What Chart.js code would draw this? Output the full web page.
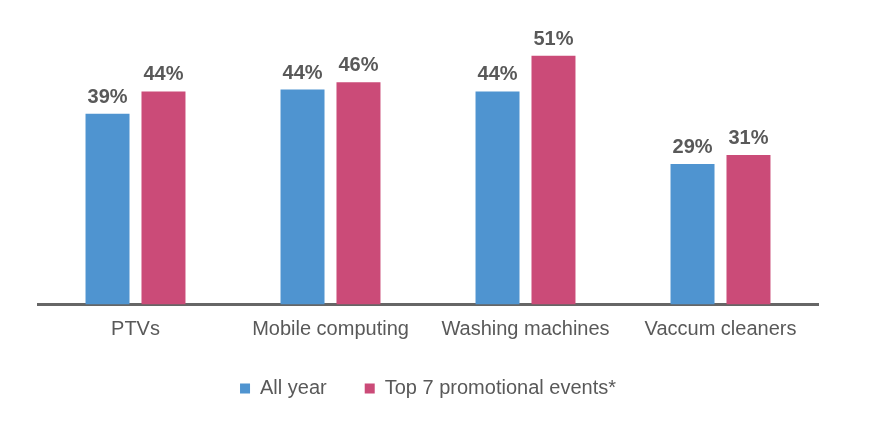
<!DOCTYPE html>
<html>
<head>
<meta charset="utf-8">
<script src="https://cdn.jsdelivr.net/npm/chart.js@4/dist/chart.umd.min.js"></script>
<style>
  html, body { margin: 0; padding: 0; background: #ffffff; }
  #wrap { width: 873px; height: 427px; position: relative; }
</style>
</head>
<body>
<div id="wrap"><canvas id="c"></canvas></div>
<script>
const categories = ['PTVs', 'Mobile computing', 'Washing machines', 'Vaccum cleaners'];
const allYear = [39.4, 44.4, 44.0, 29.0];
const topPromo = [44.0, 45.9, 51.4, 30.9];
const seriesNames = ['All year', 'Top 7 promotional events*'];

const textColor = '#595959';
const fontFamily = '"Liberation Sans", Arial, sans-serif';

const valueLabels = {
  id: 'valueLabels',
  afterDatasetsDraw(chart) {
    const ctx = chart.ctx;
    ctx.save();
    ctx.fillStyle = textColor;
    ctx.font = 'bold 20px ' + fontFamily;
    ctx.textAlign = 'center';
    ctx.textBaseline = 'alphabetic';
    chart.data.datasets.forEach((ds, i) => {
      const meta = chart.getDatasetMeta(i);
      meta.data.forEach((bar, j) => {
        ctx.fillText(Math.round(ds.data[j]) + '%', bar.x, bar.y - 11);
      });
    });
    ctx.restore();
  }
};

new Chart(document.getElementById('c'), {
  type: 'bar',
  data: {
    labels: categories,
    datasets: [
      { label: seriesNames[0], data: allYear, backgroundColor: '#4F94D0', borderWidth: 0,
        categoryPercentage: 0.574, barPercentage: 0.786 },
      { label: seriesNames[1], data: topPromo, backgroundColor: '#CB4B78', borderWidth: 0,
        categoryPercentage: 0.574, barPercentage: 0.786 }
    ]
  },
  options: {
    responsive: true,
    maintainAspectRatio: false,
    animation: false,
    layout: { padding: { left: 38, right: 55, top: 14, bottom: 20.5 } },
    scales: {
      x: {
        grid: { display: false, drawTicks: false },
        border: { display: true, color: '#666666', width: 3 },
        ticks: { color: textColor, padding: 13, font: { family: fontFamily, size: 20 } },
        afterFit(scale) { scale.height = 36; }
      },
      y: {
        display: false,
        min: 0,
        max: 60
      }
    },
    plugins: {
      legend: {
        position: 'bottom',
        maxHeight: 66,
        labels: {
          color: textColor,
          boxWidth: 10,
          boxHeight: 10,
          padding: 38,
          font: { family: fontFamily, size: 20 }
        }
      },
      tooltip: { enabled: false }
    }
  },
  plugins: [valueLabels]
});
</script>
</body>
</html>
